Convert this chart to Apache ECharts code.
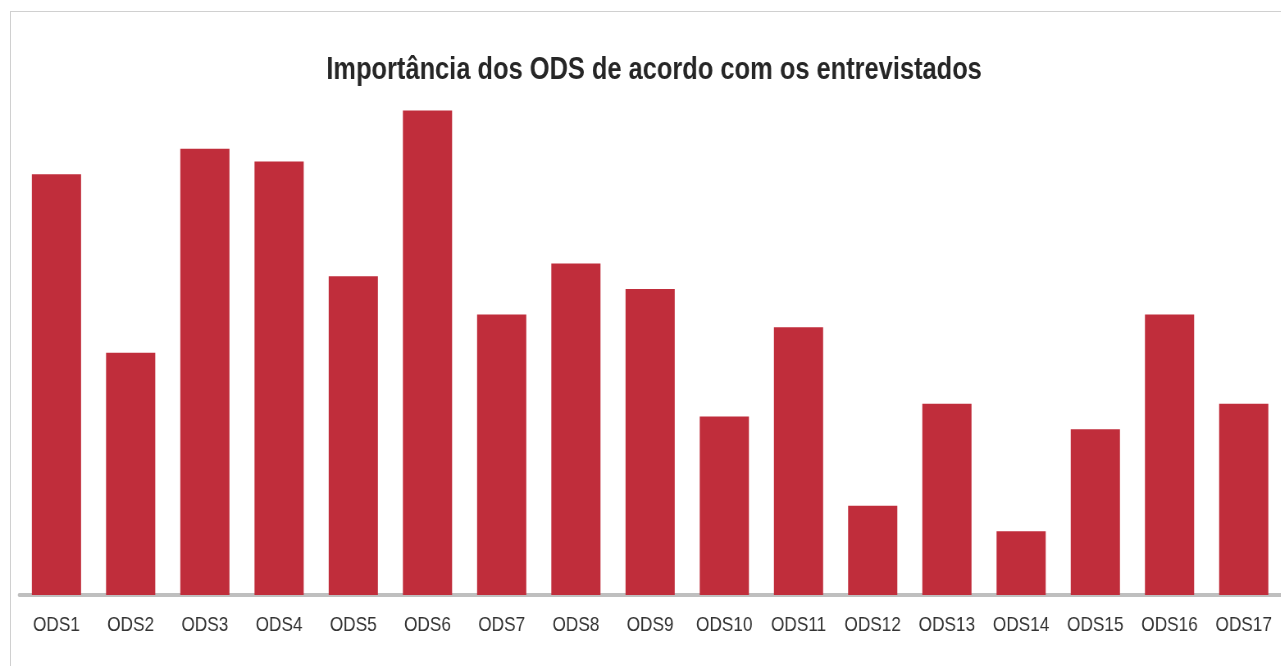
<!DOCTYPE html>
<html>
<head>
<meta charset="utf-8">
<script src="https://cdn.jsdelivr.net/npm/echarts@6/dist/echarts.min.js"></script>
<style>
  html, body { margin: 0; padding: 0; background: #fff; overflow: hidden; }
  .frame {
    position: absolute; left: 10px; top: 11px;
    width: 1300px; height: 700px;
    border: 1px solid #d0d0d0;
  }
  /* the original uses a narrow font; squeeze the chart horizontally */
  #chart {
    position: absolute; left: 0; top: 0;
    width: 1562px; height: 666px;
    transform: scaleX(0.82); transform-origin: 0 0;
  }
</style>
</head>
<body>
<div class="frame"></div>
<div id="chart"></div>
<script>
  var categories = ['ODS1', 'ODS2', 'ODS3', 'ODS4', 'ODS5', 'ODS6', 'ODS7', 'ODS8', 'ODS9',
    'ODS10', 'ODS11', 'ODS12', 'ODS13', 'ODS14', 'ODS15', 'ODS16', 'ODS17'];
  var importance = [33, 19, 35, 34, 25, 38, 22, 26, 24, 14, 21, 7, 15, 5, 13, 22, 15];

  var font = '"Liberation Sans", Arial, sans-serif';

  var myChart = echarts.init(document.getElementById('chart'));
  var option = {
    animation: false,
    title: {
      text: 'Importância dos ODS de acordo com os entrevistados',
      left: 393,
      top: 50,
      textStyle: { fontFamily: font, fontSize: 31, fontWeight: 'bold', color: '#262626' }
    },
    grid: { left: 23.6, width: 1540, top: 85, bottom: 71 },
    xAxis: {
      type: 'category',
      data: categories,
      axisLine: { lineStyle: { color: '#bfbfbf', width: 4 } },
      axisTick: { show: false },
      axisLabel: { interval: 0, margin: 20, fontFamily: font, fontSize: 21, color: '#333333' }
    },
    yAxis: {
      type: 'value',
      min: 0,
      max: 40,
      show: false,
      splitLine: { show: false }
    },
    series: [{
      name: 'Importância',
      type: 'bar',
      data: importance,
      barWidth: 60,
      itemStyle: { color: '#c02d3b' }
    }]
  };
  myChart.setOption(option);
</script>
</body>
</html>
